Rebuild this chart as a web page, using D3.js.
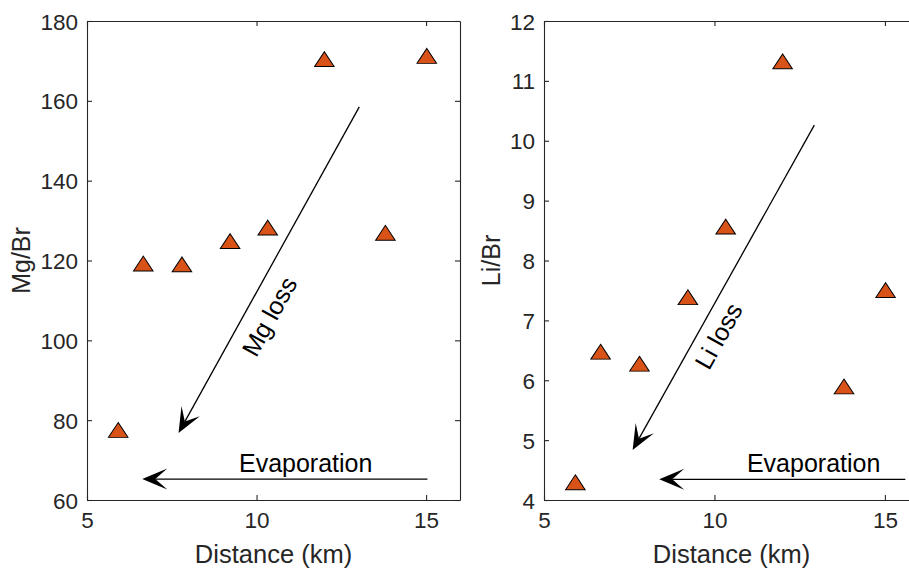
<!DOCTYPE html>
<html>
<head>
<meta charset="utf-8">
<script src="https://cdn.jsdelivr.net/npm/d3@7"></script>
<style>
  html, body { margin: 0; padding: 0; background: #fff; }
  svg { display: block; font-family: "Liberation Sans", Arial, Helvetica, sans-serif; }
</style>
</head>
<body>
<svg id="chart" width="909" height="568"></svg>
<script>
// ---- data ----
const distance = [5.92, 6.66, 7.80, 9.22, 10.33, 12.0, 13.8, 15.02];
const mgBr = [77.3, 119.0, 118.8, 124.6, 128.0, 170.2, 126.7, 171.0];
const liBr = [4.28, 6.46, 6.26, 7.37, 8.55, 11.31, 5.88, 7.49];
const xTicks = [5, 10, 15];
const mgTicks = [60, 80, 100, 120, 140, 160, 180];
const liTicks = [4, 5, 6, 7, 8, 9, 10, 11, 12];
const xDomain = [5, 16];
const mgDomain = [60, 180];
const liDomain = [4, 12];
// annotations (data coords)
const mgLossArrow = { from: [13.03, 158.5], to: [7.70, 76.8] };
const mgLossLabel = { at: [10.38, 106.0], text: "Mg loss" };
const mgEvapArrow = { from: [15.04, 65.25], to: [6.63, 65.25] };
const mgEvapLabel = { at: [11.45, 67.1], text: "Evaporation" };
const liLossArrow = { from: [12.93, 10.26], to: [7.60, 4.835] };
const liLossLabel = { at: [10.12, 6.74], text: "Li loss" };
const liEvapArrow = { from: [15.6, 4.345], to: [8.38, 4.345] };
const liEvapLabel = { at: [12.91, 4.47], text: "Evaporation" };

const svg = d3.select("#chart");
const axisColor = "#262626";
const markerFill = "#D95319";

function drawArrow(g, x, y, arr) {
  const x1 = x(arr.from[0]), y1 = y(arr.from[1]);
  const x2 = x(arr.to[0]), y2 = y(arr.to[1]);
  const dx = x2 - x1, dy = y2 - y1, len = Math.hypot(dx, dy);
  const ux = dx / len, uy = dy / len;
  const px = -uy, py = ux;
  const L = 25, W = 10.5, N = 13;
  const bx = x2 - ux * L, by = y2 - uy * L;
  const nx = x2 - ux * N, ny = y2 - uy * N;
  g.append("line")
    .attr("x1", x1).attr("y1", y1).attr("x2", nx).attr("y2", ny)
    .attr("stroke", "#000").attr("stroke-width", 1.3);
  g.append("path")
    .attr("d", `M${x2},${y2}L${bx + px * W},${by + py * W}L${nx},${ny}L${bx - px * W},${by - py * W}Z`)
    .attr("fill", "#000");
}

function drawPanel(opts) {
  const { left, right, top, bottom, yDomain, yTicks, yVals, yLabel, yLabelX,
          lossArrow, lossLabel, evapArrow, evapLabel } = opts;
  const x = d3.scaleLinear().domain(xDomain).range([left, right]);
  const y = d3.scaleLinear().domain(yDomain).range([bottom, top]);
  const g = svg.append("g");

  const tickLen = 5;
  const axB = g.append("g").attr("transform", `translate(0,${bottom})`)
    .call(d3.axisBottom(x).tickValues(xTicks).tickSizeInner(-tickLen).tickSizeOuter(0).tickPadding(12));
  const axT = g.append("g").attr("transform", `translate(0,${top})`)
    .call(d3.axisTop(x).tickValues(xTicks).tickSizeInner(-tickLen).tickSizeOuter(0).tickFormat(""));
  const axL = g.append("g").attr("transform", `translate(${left},0)`)
    .call(d3.axisLeft(y).tickValues(yTicks).tickSizeInner(-tickLen).tickSizeOuter(0).tickPadding(9));
  const axR = g.append("g").attr("transform", `translate(${right},0)`)
    .call(d3.axisRight(y).tickValues(yTicks).tickSizeInner(-tickLen).tickSizeOuter(0).tickFormat(""));
  [axB, axT, axL, axR].forEach(a => {
    a.selectAll("path").attr("stroke", axisColor).attr("stroke-width", 1.1);
    a.selectAll("line").attr("stroke", axisColor).attr("stroke-width", 1.1);
    a.selectAll("text").attr("fill", axisColor).attr("font-size", 22.5)
      .attr("font-family", '"Liberation Sans", Arial, sans-serif');
  });
  axB.selectAll("text").attr("dy", "0.71em");
  axL.selectAll("text").attr("dy", "0.36em");

  g.append("text")
    .attr("x", (left + right) / 2).attr("y", 563)
    .attr("text-anchor", "middle").attr("font-size", 25.5).attr("fill", axisColor)
    .text("Distance (km)");
  g.append("text")
    .attr("transform", `translate(${yLabelX},${(top + bottom) / 2}) rotate(-90)`)
    .attr("text-anchor", "middle").attr("font-size", 25).attr("fill", axisColor)
    .text(yLabel);

  drawArrow(g, x, y, lossArrow);
  drawArrow(g, x, y, evapArrow);
  const ang = Math.atan2(y(lossArrow.to[1]) - y(lossArrow.from[1]),
                         x(lossArrow.to[0]) - x(lossArrow.from[0])) * 180 / Math.PI;
  const rot = ang - 180;
  g.append("text")
    .attr("transform", `translate(${x(lossLabel.at[0])},${y(lossLabel.at[1])}) rotate(${rot})`)
    .attr("text-anchor", "middle").attr("dy", "0.35em")
    .attr("font-size", 25).attr("fill", "#000")
    .text(lossLabel.text);
  g.append("text")
    .attr("x", x(evapLabel.at[0])).attr("y", y(evapLabel.at[1]))
    .attr("text-anchor", "middle").attr("font-size", 25).attr("fill", "#000")
    .text(evapLabel.text);

  const tri = d3.symbol().type(d3.symbolTriangle).size(150);
  g.selectAll("path.pt").data(distance.map((d, i) => [d, yVals[i]]))
    .enter().append("path").attr("class", "pt")
    .attr("d", tri)
    .attr("transform", d => `translate(${x(d[0])},${y(d[1]) + 1.5}) scale(1.05,0.92)`)
    .attr("fill", markerFill).attr("stroke", "#000").attr("stroke-width", 1);
}

drawPanel({ left: 87, right: 460, top: 21, bottom: 500, yDomain: mgDomain, yTicks: mgTicks,
  yVals: mgBr, yLabel: "Mg/Br", yLabelX: 30,
  lossArrow: mgLossArrow, lossLabel: mgLossLabel, evapArrow: mgEvapArrow, evapLabel: mgEvapLabel });
drawPanel({ left: 544, right: 919, top: 21, bottom: 500, yDomain: liDomain, yTicks: liTicks,
  yVals: liBr, yLabel: "Li/Br", yLabelX: 500,
  lossArrow: liLossArrow, lossLabel: liLossLabel, evapArrow: liEvapArrow, evapLabel: liEvapLabel });
</script>
</body>
</html>
